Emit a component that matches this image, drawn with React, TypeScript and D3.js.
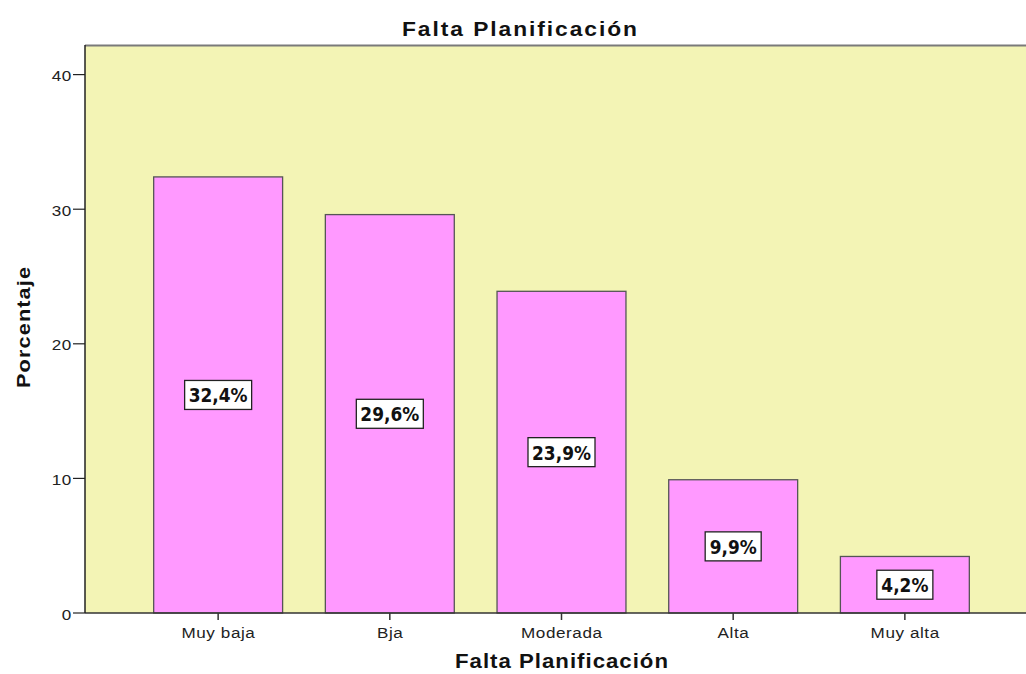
import React from "react";
import * as d3 from "d3";

const categories = ["Muy baja", "Bja", "Moderada", "Alta", "Muy alta"];
const values = [32.4, 29.6, 23.9, 9.9, 4.2];
const valueLabels = ["32,4%", "29,6%", "23,9%", "9,9%", "4,2%"];
const yTicks = [0, 10, 20, 30, 40];

const W = 1026;
const H = 674;
const left = 85;
const top = 45;
const bottom = 613;
const SX = 1.14;

export default function App() {
  const x = d3
    .scaleBand<string>()
    .domain(categories)
    .range([left, 1038])
    .paddingInner(0.249)
    .paddingOuter(0.4);
  const y = d3.scaleLinear().domain([0, 42.2]).range([bottom, top]);
  const font = "'DejaVu Sans', Verdana, sans-serif";
  const labelFont = "'Liberation Sans', Arial, sans-serif";

  return (
    <svg
      width={W}
      height={H}
      style={{ position: "absolute", left: 0, top: 0, background: "#fff" }}
    >
      <rect x={left} y={top} width={W - left} height={bottom - top} fill="#F3F4B5" />
      <line x1={left} x2={W} y1={top + 0.5} y2={top + 0.5} stroke="#7a7a7a" strokeWidth={2} />
      {categories.map((c, i) => {
        const bx = x(c)!;
        const bw = x.bandwidth();
        const by = y(values[i]);
        const cx = bx + bw / 2;
        const cy = (by + bottom) / 2;
        const lw = valueLabels[i].length * 11 + 12;
        return (
          <g key={c}>
            <rect
              x={bx}
              y={by}
              width={bw}
              height={bottom - by}
              fill="#FF99FF"
              stroke="#555"
              strokeWidth={1.3}
            />
            <rect
              x={cx - lw / 2}
              y={cy - 14.5}
              width={lw}
              height={29}
              fill="#fff"
              stroke="#222"
              strokeWidth={1.3}
            />
            <text
              transform={`translate(${cx}, ${cy + 7.5}) scale(1,1.15)`}
              textAnchor="middle"
              fontFamily={font}
              fontWeight="bold"
              fontSize={17}
              fill="#111"
            >
              {valueLabels[i]}
            </text>
            <line x1={cx} x2={cx} y1={bottom} y2={bottom + 7} stroke="#333" strokeWidth={1.5} />
            <text
              transform={`translate(${cx + 0.3}, ${bottom + 25}) scale(${SX},1)`}
              textAnchor="middle"
              fontFamily={labelFont}
              fontSize={15}
              letterSpacing={0.5}
              fill="#222"
            >
              {c}
            </text>
          </g>
        );
      })}
      <line x1={left} x2={W} y1={bottom} y2={bottom} stroke="#333" strokeWidth={1.5} />
      <line x1={left} x2={left} y1={top} y2={bottom} stroke="#222" strokeWidth={1.5} />
      {yTicks.map((t) => (
        <g key={t}>
          <line x1={left - 12} x2={left} y1={y(t)} y2={y(t)} stroke="#222" strokeWidth={1.2} />
          <text
            transform={`translate(${left - 13.5}, ${y(t) + 6.5}) scale(${SX},1)`}
            textAnchor="end"
            fontFamily={labelFont}
            fontSize={15}
            letterSpacing={0.3}
            fill="#222"
          >
            {t}
          </text>
        </g>
      ))}
      <text
        transform={`translate(402, 36) scale(${SX},1)`}
        textLength={235 / SX}
        lengthAdjust="spacing"
        fontFamily={labelFont}
        fontWeight="bold"
        fontSize={20}
        fill="#111"
      >
        Falta Planificación
      </text>
      <text
        transform={`translate(455, 668) scale(${SX},1)`}
        textLength={213 / SX}
        lengthAdjust="spacing"
        fontFamily={labelFont}
        fontWeight="bold"
        fontSize={19.5}
        fill="#111"
      >
        Falta Planificación
      </text>
      <text
        transform={`translate(30, 388) rotate(-90) scale(${SX},1)`}
        textLength={121 / SX}
        lengthAdjust="spacing"
        fontFamily={labelFont}
        fontWeight="bold"
        fontSize={19}
        fill="#111"
      >
        Porcentaje
      </text>
    </svg>
  );
}
